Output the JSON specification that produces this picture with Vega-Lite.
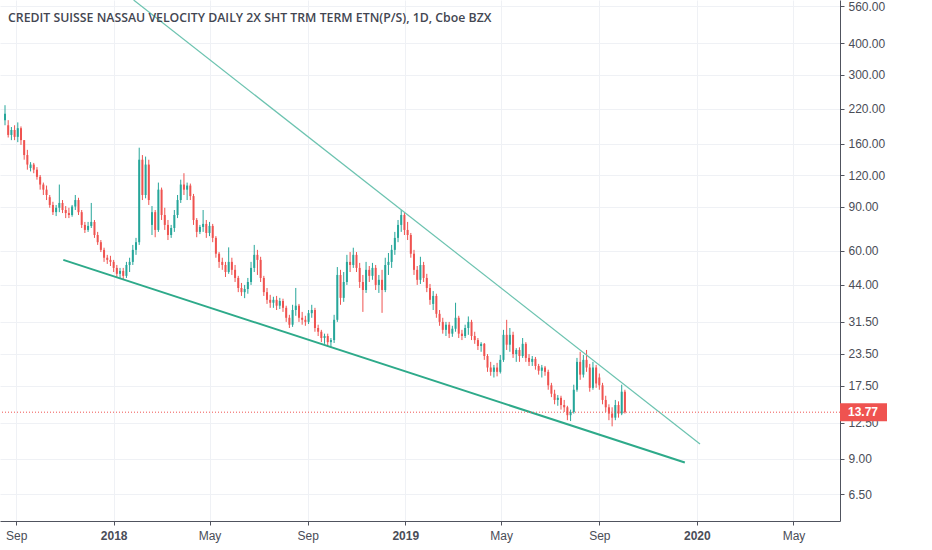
{
  "$schema": "https://vega.github.io/schema/vega-lite/v6.json",
  "width": 840,
  "height": 521,
  "autosize": {"type": "none"},
  "padding": {"left": 0, "top": 0, "right": 92, "bottom": 29},
  "background": "#ffffff",
  "title": {
    "text": "CREDIT SUISSE NASSAU VELOCITY DAILY 2X SHT TRM TERM ETN(P/S), 1D, Cboe BZX",
    "anchor": "start",
    "frame": "group",
    "offset": -24,
    "dx": 8,
    "font": "Open Sans",
    "fontSize": 12.3,
    "fontWeight": 600,
    "color": "#434651"
  },
  "config": {
    "view": {"stroke": null},
    "axis": {
      "labelFont": "Liberation Sans",
      "labelFontSize": 12,
      "labelColor": "#4a4d57",
      "domainColor": "#50535e",
      "tickColor": "#50535e",
      "tickSize": 4,
      "gridColor": "#eff1f5",
      "gridWidth": 1
    }
  },
  "datasets": {
    "candles": [
      {"d": "2017-08-18", "o": 198, "h": 227, "l": 189, "c": 210},
      {"d": "2017-08-22", "o": 189, "h": 198, "l": 169, "c": 173},
      {"d": "2017-08-26", "o": 173, "h": 186, "l": 165, "c": 181},
      {"d": "2017-08-30", "o": 181, "h": 189, "l": 165, "c": 170},
      {"d": "2017-09-03", "o": 170, "h": 194, "l": 162, "c": 184},
      {"d": "2017-09-07", "o": 184, "h": 187, "l": 158, "c": 165},
      {"d": "2017-09-11", "o": 165, "h": 165, "l": 138, "c": 144},
      {"d": "2017-09-15", "o": 144, "h": 151, "l": 126, "c": 132},
      {"d": "2017-09-19", "o": 128, "h": 135, "l": 124, "c": 132},
      {"d": "2017-09-23", "o": 132, "h": 134, "l": 122, "c": 126},
      {"d": "2017-09-27", "o": 126, "h": 129, "l": 115, "c": 118},
      {"d": "2017-10-01", "o": 118, "h": 120, "l": 105, "c": 110},
      {"d": "2017-10-05", "o": 110, "h": 112, "l": 100, "c": 105},
      {"d": "2017-10-09", "o": 105, "h": 109, "l": 95.5, "c": 100},
      {"d": "2017-10-13", "o": 98, "h": 100, "l": 89, "c": 91.3},
      {"d": "2017-10-17", "o": 91.3, "h": 94, "l": 83.3, "c": 85.5},
      {"d": "2017-10-21", "o": 85.5, "h": 91.3, "l": 82.5, "c": 89},
      {"d": "2017-10-25", "o": 89, "h": 110, "l": 85.5, "c": 93},
      {"d": "2017-10-29", "o": 93, "h": 95.5, "l": 84.8, "c": 87.2},
      {"d": "2017-11-02", "o": 87.2, "h": 90.4, "l": 81, "c": 84.8},
      {"d": "2017-11-06", "o": 84.8, "h": 89, "l": 81, "c": 83.3},
      {"d": "2017-11-10", "o": 83.3, "h": 91.3, "l": 82, "c": 90},
      {"d": "2017-11-14", "o": 90, "h": 100, "l": 87.2, "c": 95.5},
      {"d": "2017-11-18", "o": 95.5, "h": 97.5, "l": 83.3, "c": 85.5},
      {"d": "2017-11-22", "o": 85.5, "h": 87.2, "l": 74, "c": 76.1},
      {"d": "2017-11-26", "o": 76.1, "h": 78.2, "l": 70.7, "c": 72.7},
      {"d": "2017-11-30", "o": 72.7, "h": 78.2, "l": 71.4, "c": 75.4},
      {"d": "2017-12-04", "o": 75.4, "h": 93, "l": 74, "c": 78.2},
      {"d": "2017-12-08", "o": 78.2, "h": 79.6, "l": 67.6, "c": 69.4},
      {"d": "2017-12-12", "o": 69.4, "h": 71.4, "l": 63.4, "c": 65},
      {"d": "2017-12-16", "o": 65, "h": 66.3, "l": 59.4, "c": 60.6},
      {"d": "2017-12-20", "o": 60.6, "h": 61.8, "l": 54.3, "c": 56.4},
      {"d": "2017-12-24", "o": 56.4, "h": 57.9, "l": 53.3, "c": 55.3},
      {"d": "2017-12-28", "o": 55.3, "h": 57.4, "l": 52.3, "c": 54.3},
      {"d": "2018-01-01", "o": 54.3, "h": 55.3, "l": 49.5, "c": 51.4},
      {"d": "2018-01-05", "o": 51.4, "h": 52.8, "l": 47.3, "c": 48.7},
      {"d": "2018-01-09", "o": 48.7, "h": 51.4, "l": 46.5, "c": 50},
      {"d": "2018-01-13", "o": 50, "h": 51.4, "l": 46.1, "c": 47.8},
      {"d": "2018-01-17", "o": 47.8, "h": 54.3, "l": 46.9, "c": 52.8},
      {"d": "2018-01-21", "o": 52.8, "h": 56.4, "l": 49.5, "c": 54.3},
      {"d": "2018-01-25", "o": 54.3, "h": 63.4, "l": 52.8, "c": 60.6},
      {"d": "2018-01-29", "o": 60.6, "h": 67.6, "l": 57.9, "c": 65},
      {"d": "2018-02-02", "o": 65, "h": 154, "l": 63.4, "c": 138},
      {"d": "2018-02-06", "o": 138, "h": 144, "l": 95.5, "c": 100},
      {"d": "2018-02-10", "o": 100, "h": 142, "l": 97, "c": 132},
      {"d": "2018-02-14", "o": 132, "h": 138, "l": 91.3, "c": 95.5},
      {"d": "2018-02-18", "o": 76.1, "h": 90.4, "l": 69.4, "c": 85.5},
      {"d": "2018-02-22", "o": 85.5, "h": 87.2, "l": 68, "c": 72.7},
      {"d": "2018-02-26", "o": 72.7, "h": 112, "l": 71.4, "c": 105},
      {"d": "2018-03-02", "o": 105, "h": 107, "l": 79.6, "c": 83.3},
      {"d": "2018-03-06", "o": 83.3, "h": 89, "l": 72.7, "c": 76.1},
      {"d": "2018-03-10", "o": 76.1, "h": 79.6, "l": 66.3, "c": 69.4},
      {"d": "2018-03-14", "o": 69.4, "h": 76.1, "l": 67.6, "c": 74},
      {"d": "2018-03-18", "o": 74, "h": 87.2, "l": 71.4, "c": 83.3},
      {"d": "2018-03-22", "o": 83.3, "h": 100, "l": 81, "c": 95.5},
      {"d": "2018-03-26", "o": 95.5, "h": 115, "l": 93, "c": 110},
      {"d": "2018-03-30", "o": 110, "h": 122, "l": 100, "c": 105},
      {"d": "2018-04-03", "o": 105, "h": 112, "l": 95.5, "c": 109},
      {"d": "2018-04-07", "o": 109, "h": 111, "l": 95.5, "c": 99},
      {"d": "2018-04-11", "o": 99, "h": 101, "l": 76.1, "c": 79.6},
      {"d": "2018-04-15", "o": 79.6, "h": 81, "l": 68, "c": 71.4},
      {"d": "2018-04-19", "o": 71.4, "h": 76.1, "l": 70, "c": 74.7},
      {"d": "2018-04-23", "o": 74.7, "h": 87.2, "l": 71.4, "c": 76.8},
      {"d": "2018-04-27", "o": 76.8, "h": 79.6, "l": 67.6, "c": 70.7},
      {"d": "2018-05-01", "o": 70.7, "h": 78.2, "l": 68.7, "c": 75.4},
      {"d": "2018-05-05", "o": 75.4, "h": 76.8, "l": 65, "c": 67.6},
      {"d": "2018-05-09", "o": 67.6, "h": 68.7, "l": 56.4, "c": 58.5},
      {"d": "2018-05-13", "o": 58.5, "h": 59.4, "l": 51.4, "c": 54.3},
      {"d": "2018-05-17", "o": 54.3, "h": 56.4, "l": 50.5, "c": 52.8},
      {"d": "2018-05-21", "o": 52.8, "h": 54.3, "l": 47.3, "c": 49.5},
      {"d": "2018-05-25", "o": 49.5, "h": 62, "l": 48.7, "c": 54.3},
      {"d": "2018-05-29", "o": 54.3, "h": 56.4, "l": 48.2, "c": 50.5},
      {"d": "2018-06-02", "o": 50.5, "h": 52.8, "l": 45.2, "c": 46.9},
      {"d": "2018-06-06", "o": 46.9, "h": 47.8, "l": 41.2, "c": 42.8},
      {"d": "2018-06-10", "o": 42.8, "h": 44.8, "l": 39.8, "c": 41.2},
      {"d": "2018-06-14", "o": 41.2, "h": 44, "l": 39, "c": 42.4},
      {"d": "2018-06-18", "o": 42.4, "h": 46.9, "l": 40.6, "c": 45.2},
      {"d": "2018-06-22", "o": 45.2, "h": 54.3, "l": 44, "c": 51.4},
      {"d": "2018-06-26", "o": 51.4, "h": 63.4, "l": 49.5, "c": 57.9},
      {"d": "2018-06-30", "o": 57.9, "h": 60.6, "l": 48.2, "c": 55.3},
      {"d": "2018-07-04", "o": 55.3, "h": 56.9, "l": 45.2, "c": 46.9},
      {"d": "2018-07-08", "o": 46.9, "h": 47.8, "l": 39.8, "c": 41.2},
      {"d": "2018-07-12", "o": 41.2, "h": 42.8, "l": 37, "c": 38.4},
      {"d": "2018-07-16", "o": 38.4, "h": 40.2, "l": 35.7, "c": 37.4},
      {"d": "2018-07-20", "o": 37.4, "h": 39.5, "l": 35.7, "c": 38.4},
      {"d": "2018-07-24", "o": 38.4, "h": 39.8, "l": 35, "c": 36.4},
      {"d": "2018-07-28", "o": 36.4, "h": 39.1, "l": 35.3, "c": 38},
      {"d": "2018-08-01", "o": 38, "h": 38.8, "l": 34.4, "c": 35.7},
      {"d": "2018-08-05", "o": 35.7, "h": 36.4, "l": 31.4, "c": 32.6},
      {"d": "2018-08-09", "o": 32.6, "h": 33.5, "l": 29.7, "c": 30.6},
      {"d": "2018-08-13", "o": 30.6, "h": 36.7, "l": 30, "c": 35},
      {"d": "2018-08-17", "o": 35, "h": 42.8, "l": 33.2, "c": 36.4},
      {"d": "2018-08-21", "o": 36.4, "h": 37, "l": 31.4, "c": 32.6},
      {"d": "2018-08-25", "o": 32.6, "h": 34.4, "l": 30.6, "c": 32},
      {"d": "2018-08-29", "o": 32, "h": 33.2, "l": 30.3, "c": 31.4},
      {"d": "2018-09-02", "o": 31.4, "h": 35, "l": 30.8, "c": 34},
      {"d": "2018-09-06", "o": 34, "h": 36.7, "l": 32.6, "c": 35},
      {"d": "2018-09-10", "o": 35, "h": 35.7, "l": 28.7, "c": 29.7},
      {"d": "2018-09-14", "o": 29.7, "h": 30.6, "l": 27.6, "c": 28.7},
      {"d": "2018-09-18", "o": 28.7, "h": 29.2, "l": 26.1, "c": 27.1},
      {"d": "2018-09-22", "o": 27.1, "h": 28.2, "l": 25.7, "c": 27.6},
      {"d": "2018-09-26", "o": 27.6, "h": 28.2, "l": 25.2, "c": 26.1},
      {"d": "2018-09-30", "o": 26.1, "h": 27.1, "l": 24.8, "c": 26.6},
      {"d": "2018-10-04", "o": 26.6, "h": 33.5, "l": 25.9, "c": 32},
      {"d": "2018-10-08", "o": 32, "h": 51.8, "l": 31.4, "c": 48.2},
      {"d": "2018-10-12", "o": 48.2, "h": 50.5, "l": 36.7, "c": 39.1},
      {"d": "2018-10-16", "o": 39.1, "h": 49.5, "l": 37.7, "c": 45.2},
      {"d": "2018-10-20", "o": 45.2, "h": 57.9, "l": 44, "c": 54.3},
      {"d": "2018-10-24", "o": 54.3, "h": 59.4, "l": 49.5, "c": 52.8},
      {"d": "2018-10-28", "o": 52.8, "h": 61.8, "l": 51.4, "c": 57.9},
      {"d": "2018-11-01", "o": 57.9, "h": 59.4, "l": 49.5, "c": 51.4},
      {"d": "2018-11-05", "o": 51.4, "h": 53.8, "l": 42.8, "c": 45.2},
      {"d": "2018-11-09", "o": 45.2, "h": 48.2, "l": 34.4, "c": 42},
      {"d": "2018-11-13", "o": 42, "h": 54.3, "l": 40.9, "c": 50.5},
      {"d": "2018-11-17", "o": 50.5, "h": 52.3, "l": 45.2, "c": 47.8},
      {"d": "2018-11-21", "o": 47.8, "h": 53.8, "l": 46.1, "c": 51.4},
      {"d": "2018-11-25", "o": 51.4, "h": 52.8, "l": 42, "c": 44},
      {"d": "2018-11-29", "o": 44, "h": 48.2, "l": 40.9, "c": 46.1},
      {"d": "2018-12-03", "o": 46.1, "h": 50.5, "l": 34.1, "c": 42},
      {"d": "2018-12-07", "o": 42, "h": 56.4, "l": 41.2, "c": 52.8},
      {"d": "2018-12-11", "o": 52.8, "h": 58.9, "l": 48.2, "c": 54.3},
      {"d": "2018-12-15", "o": 54.3, "h": 63.4, "l": 51.4, "c": 60.6},
      {"d": "2018-12-19", "o": 60.6, "h": 71.4, "l": 57.9, "c": 67.6},
      {"d": "2018-12-23", "o": 67.6, "h": 79.6, "l": 65, "c": 76.1},
      {"d": "2018-12-27", "o": 76.1, "h": 87.2, "l": 71.4, "c": 83.3},
      {"d": "2018-12-31", "o": 83.3, "h": 84.8, "l": 69.4, "c": 72.7},
      {"d": "2019-01-04", "o": 72.7, "h": 78.2, "l": 66.3, "c": 69.4},
      {"d": "2019-01-08", "o": 69.4, "h": 70.7, "l": 56.4, "c": 58.5},
      {"d": "2019-01-12", "o": 58.5, "h": 60.6, "l": 48.2, "c": 50.5},
      {"d": "2019-01-16", "o": 50.5, "h": 52.3, "l": 44, "c": 46.1},
      {"d": "2019-01-20", "o": 46.1, "h": 56.9, "l": 44.4, "c": 52.8},
      {"d": "2019-01-24", "o": 52.8, "h": 54.3, "l": 45.2, "c": 46.9},
      {"d": "2019-01-28", "o": 46.9, "h": 48.7, "l": 41.2, "c": 42.8},
      {"d": "2019-02-01", "o": 42.8, "h": 44.4, "l": 36.7, "c": 38.4},
      {"d": "2019-02-05", "o": 37, "h": 41.6, "l": 35, "c": 39.8},
      {"d": "2019-02-09", "o": 39.8, "h": 40.6, "l": 32.6, "c": 33.8},
      {"d": "2019-02-13", "o": 33.8, "h": 35, "l": 30.3, "c": 31.4},
      {"d": "2019-02-17", "o": 31.4, "h": 32.6, "l": 28.2, "c": 29.2},
      {"d": "2019-02-21", "o": 29.2, "h": 31.4, "l": 27.6, "c": 30.6},
      {"d": "2019-02-25", "o": 30.6, "h": 31.4, "l": 27.1, "c": 28.2},
      {"d": "2019-03-01", "o": 28.2, "h": 30.3, "l": 27.4, "c": 29.5},
      {"d": "2019-03-05", "o": 29.5, "h": 37.4, "l": 28.7, "c": 32.6},
      {"d": "2019-03-09", "o": 32.6, "h": 33.2, "l": 27.1, "c": 28.2},
      {"d": "2019-03-13", "o": 28.2, "h": 29.2, "l": 26.6, "c": 27.6},
      {"d": "2019-03-17", "o": 27.6, "h": 30.6, "l": 27.1, "c": 29.7},
      {"d": "2019-03-21", "o": 29.7, "h": 33, "l": 27.9, "c": 31.4},
      {"d": "2019-03-25", "o": 31.4, "h": 32, "l": 26.6, "c": 27.6},
      {"d": "2019-03-29", "o": 27.6, "h": 28.7, "l": 25.7, "c": 26.6},
      {"d": "2019-04-02", "o": 26.6, "h": 27.1, "l": 24.3, "c": 25.2},
      {"d": "2019-04-06", "o": 25.2, "h": 26.1, "l": 23.9, "c": 25.7},
      {"d": "2019-04-10", "o": 25.7, "h": 25.9, "l": 22.2, "c": 23},
      {"d": "2019-04-14", "o": 23, "h": 23.4, "l": 19.9, "c": 20.7},
      {"d": "2019-04-18", "o": 20.7, "h": 21.8, "l": 19.2, "c": 19.9},
      {"d": "2019-04-22", "o": 19.9, "h": 21.2, "l": 18.9, "c": 20.7},
      {"d": "2019-04-26", "o": 20.7, "h": 21.6, "l": 19.1, "c": 19.9},
      {"d": "2019-04-30", "o": 19.9, "h": 23.2, "l": 19.6, "c": 22.2},
      {"d": "2019-05-04", "o": 22.2, "h": 29.2, "l": 21.8, "c": 27.9},
      {"d": "2019-05-08", "o": 27.9, "h": 32, "l": 24.3, "c": 25.5},
      {"d": "2019-05-12", "o": 25.5, "h": 29.7, "l": 23.9, "c": 27.9},
      {"d": "2019-05-16", "o": 27.9, "h": 28.7, "l": 22.6, "c": 23.4},
      {"d": "2019-05-20", "o": 23.4, "h": 24.7, "l": 21.8, "c": 24.3},
      {"d": "2019-05-24", "o": 24.3, "h": 24.9, "l": 21.8, "c": 23},
      {"d": "2019-05-28", "o": 23, "h": 27.1, "l": 22.6, "c": 25.7},
      {"d": "2019-06-01", "o": 25.7, "h": 26.1, "l": 21.8, "c": 22.6},
      {"d": "2019-06-05", "o": 22.6, "h": 23.4, "l": 21, "c": 21.8},
      {"d": "2019-06-09", "o": 21.8, "h": 23, "l": 21, "c": 22.4},
      {"d": "2019-06-13", "o": 22.4, "h": 22.8, "l": 20.3, "c": 21},
      {"d": "2019-06-17", "o": 21, "h": 21.4, "l": 19.4, "c": 20.1},
      {"d": "2019-06-21", "o": 20.1, "h": 21.2, "l": 18.9, "c": 20.7},
      {"d": "2019-06-25", "o": 20.7, "h": 21, "l": 19.2, "c": 19.9},
      {"d": "2019-06-29", "o": 19.9, "h": 20.3, "l": 16.9, "c": 17.6},
      {"d": "2019-07-03", "o": 17.6, "h": 18, "l": 15.8, "c": 16.3},
      {"d": "2019-07-07", "o": 16.3, "h": 16.9, "l": 14.8, "c": 15.4},
      {"d": "2019-07-11", "o": 15.4, "h": 16.1, "l": 14.6, "c": 15.7},
      {"d": "2019-07-15", "o": 15.7, "h": 16, "l": 14.1, "c": 14.7},
      {"d": "2019-07-19", "o": 14.7, "h": 15.4, "l": 13.8, "c": 14.4},
      {"d": "2019-07-23", "o": 14.4, "h": 14.6, "l": 12.8, "c": 13.4},
      {"d": "2019-07-27", "o": 13.4, "h": 14.1, "l": 12.7, "c": 13.8},
      {"d": "2019-07-31", "o": 13.8, "h": 17.7, "l": 13.6, "c": 16.9},
      {"d": "2019-08-04", "o": 16.9, "h": 22.6, "l": 16.6, "c": 21.8},
      {"d": "2019-08-08", "o": 21.8, "h": 23.9, "l": 18.5, "c": 19.4},
      {"d": "2019-08-12", "o": 19.4, "h": 23.2, "l": 18.9, "c": 22.2},
      {"d": "2019-08-16", "o": 22.2, "h": 24.3, "l": 19.9, "c": 20.7},
      {"d": "2019-08-20", "o": 20.7, "h": 21.4, "l": 16.6, "c": 17.2},
      {"d": "2019-08-24", "o": 17.2, "h": 21.8, "l": 16.9, "c": 20.7},
      {"d": "2019-08-28", "o": 20.7, "h": 21.2, "l": 17.2, "c": 17.9},
      {"d": "2019-09-01", "o": 18.9, "h": 19.6, "l": 16.9, "c": 17.6},
      {"d": "2019-09-05", "o": 17.6, "h": 18, "l": 14.8, "c": 15.4},
      {"d": "2019-09-09", "o": 15.4, "h": 16, "l": 13.8, "c": 14.4},
      {"d": "2019-09-13", "o": 14.4, "h": 14.8, "l": 12.8, "c": 13.6},
      {"d": "2019-09-17", "o": 13.6, "h": 14.4, "l": 12.1, "c": 13.1},
      {"d": "2019-09-21", "o": 13.1, "h": 15.4, "l": 12.8, "c": 14.7},
      {"d": "2019-09-25", "o": 14.7, "h": 15.2, "l": 13.1, "c": 13.6},
      {"d": "2019-09-29", "o": 13.6, "h": 17.7, "l": 13.4, "c": 16.6},
      {"d": "2019-10-03", "o": 16.6, "h": 16.9, "l": 13.6, "c": 13.77}
    ],
    "upper": [
      {"d": "2018-01-26", "v": 593},
      {"d": "2020-01-05", "v": 10.3}
    ],
    "lower": [
      {"d": "2017-10-30", "v": 55.3},
      {"d": "2019-12-17", "v": 8.7}
    ]
  },
  "layer": [
    {
      "data": {"name": "candles"},
      "mark": {"type": "rule", "strokeWidth": 1},
      "encoding": {
        "x": {
          "field": "d",
          "type": "temporal",
          "title": null,
          "scale": {"domain": [{"year": 2017, "month": 8, "date": 18}, {"year": 2020, "month": 6, "date": 22}], "nice": false},
          "axis": {
            "grid": true,
            "tickCount": {"interval": "month", "step": 4},
            "labelExpr": "month(datum.value) == 0 ? timeFormat(datum.value, '%Y') : timeFormat(datum.value, '%b')",
            "labelFontWeight": {"condition": {"test": "month(datum.value) == 0", "value": "bold"}, "value": "normal"},
            "labelPadding": 5,
            "labelFlush": false
          }
        },
        "y": {
          "field": "l",
          "type": "quantitative",
          "title": null,
          "scale": {"type": "log", "domain": [5.1, 593], "nice": false},
          "axis": {
            "orient": "right",
            "grid": true,
            "values": [6.5, 9, 12.5, 17.5, 23.5, 31.5, 44, 60, 90, 120, 160, 220, 300, 400, 560],
            "format": ".2f",
            "labelPadding": 4
          }
        },
        "y2": {"field": "h"},
        "color": {"condition": {"test": "datum.c >= datum.o", "value": "#26a69a"}, "value": "#ef5350"}
      }
    },
    {
      "data": {"name": "candles"},
      "mark": {"type": "bar", "width": 2},
      "encoding": {
        "x": {"field": "d", "type": "temporal", "title": null},
        "y": {"field": "o", "type": "quantitative", "title": null},
        "y2": {"field": "c"},
        "color": {"condition": {"test": "datum.c >= datum.o", "value": "#26a69a"}, "value": "#ef5350"}
      }
    },
    {
      "data": {"name": "upper"},
      "mark": {"type": "line", "color": "#6cc3b0", "strokeWidth": 1.2, "clip": true},
      "encoding": {
        "x": {"field": "d", "type": "temporal", "title": null},
        "y": {"field": "v", "type": "quantitative", "title": null}
      }
    },
    {
      "data": {"name": "lower"},
      "mark": {"type": "line", "color": "#2eaa8a", "strokeWidth": 2},
      "encoding": {
        "x": {"field": "d", "type": "temporal", "title": null},
        "y": {"field": "v", "type": "quantitative", "title": null}
      }
    },
    {
      "data": {"name": "candles"},
      "transform": [
        {"window": [{"op": "row_number", "as": "r"}], "sort": [{"field": "d", "order": "descending"}]},
        {"filter": "datum.r == 1"}
      ],
      "layer": [
        {
          "mark": {"type": "rule", "color": "#ef5350", "strokeWidth": 1, "strokeDash": [1, 2]},
          "encoding": {"y": {"field": "c", "type": "quantitative", "title": null}}
        },
        {
          "mark": {"type": "rule", "color": "#ef5350", "strokeWidth": 18, "x": {"expr": "width"}, "x2": {"expr": "width + 47"}},
          "encoding": {"y": {"field": "c", "type": "quantitative", "title": null}}
        },
        {
          "mark": {"type": "text", "color": "#ffffff", "font": "Liberation Sans", "fontSize": 12, "fontWeight": "bold", "align": "center", "baseline": "middle", "x": {"expr": "width + 23"}},
          "encoding": {
            "y": {"field": "c", "type": "quantitative", "title": null},
            "text": {"field": "c", "type": "quantitative", "format": ".2f"}
          }
        }
      ]
    }
  ]
}
